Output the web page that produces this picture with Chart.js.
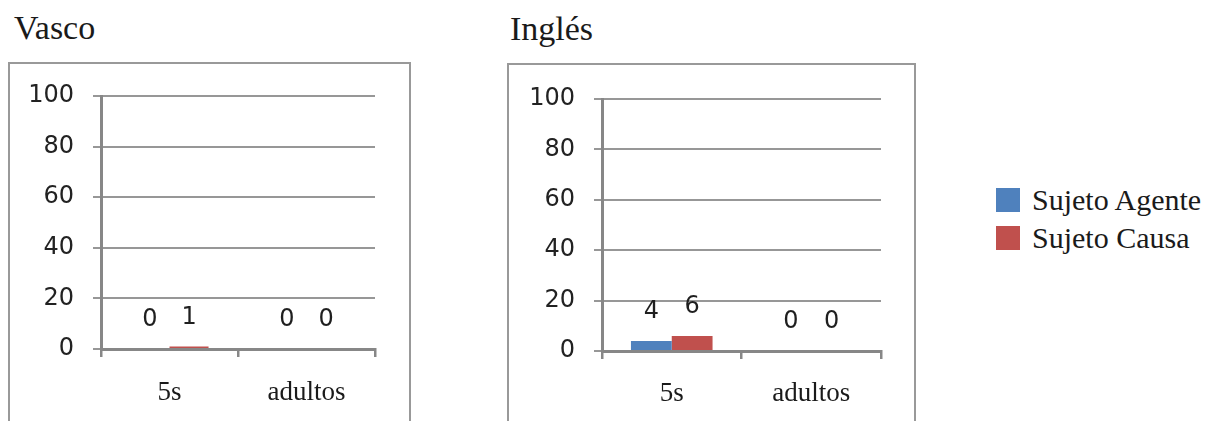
<!DOCTYPE html>
<html>
<head>
<meta charset="utf-8">
<script src="https://cdn.jsdelivr.net/npm/chart.js@4/dist/chart.umd.min.js"></script>
<style>
  html, body { margin: 0; padding: 0; background: #fff; }
  body { width: 1205px; height: 421px; position: relative; overflow: hidden; }
  .title { position: absolute; font-family: "Liberation Serif", "Times New Roman", serif; font-size: 34px; color: #1a1a1a; line-height: 1; }
  .frame { position: absolute; border: 2px solid #999; box-sizing: border-box; }
  canvas { position: absolute; }
  #legend { position: absolute; left: 996px; top: 181px; font-family: "Liberation Serif", "Times New Roman", serif; font-size: 30px; color: #1a1a1a; }
  .item { display: flex; align-items: center; height: 38px; }
  .swatch { width: 24px; height: 24px; margin-right: 12px; }
</style>
</head>
<body>
<div class="title" style="left:14px; top:11px;">Vasco</div>
<div class="title" style="left:510px; top:12px;">Inglés</div>
<div class="frame" style="left:8px; top:62px; width:403px; height:380px;"></div>
<div class="frame" style="left:507px; top:63px; width:409px; height:380px;"></div>
<canvas id="vasco" width="420" height="359" style="left:0px; top:62px;"></canvas>
<canvas id="ingles" width="430" height="358" style="left:490px; top:63px;"></canvas>
<div id="legend"></div>
<script>
// Age groups on the category axis
const categories = ['5s', 'adultos'];
const seriesNames = ['Sujeto Agente', 'Sujeto Causa'];
const seriesColors = ['#4F81BD', '#C0504D'];

// Percentages per language
const vascoAgente = [0, 0];
const vascoCausa = [1, 0];
const inglesAgente = [4, 0];
const inglesCausa = [6, 0];

const yTicks = [0, 20, 40, 60, 80, 100];

// Writes each bar's value a fixed distance above its top
const valueLabels = {
  id: 'valueLabels',
  afterDatasetsDraw(chart) {
    const ctx = chart.ctx;
    ctx.save();
    ctx.font = '24px "DejaVu Sans", sans-serif';
    ctx.fillStyle = '#1f1f1f';
    ctx.textAlign = 'center';
    ctx.textBaseline = 'middle';
    chart.data.datasets.forEach((ds, i) => {
      chart.getDatasetMeta(i).data.forEach((bar, j) => {
        ctx.fillText(String(ds.data[j]), bar.x, bar.y - 29);
      });
    });
    ctx.restore();
  }
};

function makePanel(id, agente, causa, geom) {
  return new Chart(document.getElementById(id), {
    type: 'bar',
    data: {
      labels: categories,
      datasets: [
        { label: seriesNames[0], data: agente, backgroundColor: seriesColors[0] },
        { label: seriesNames[1], data: causa, backgroundColor: seriesColors[1] }
      ]
    },
    options: {
      responsive: false,
      animation: false,
      devicePixelRatio: 1,
      categoryPercentage: geom.cat,
      barPercentage: 1,
      layout: { padding: { top: geom.top, right: geom.right, left: 0, bottom: 0 } },
      plugins: { legend: { display: false }, tooltip: { enabled: false } },
      scales: {
        x: {
          grid: { display: true, drawOnChartArea: false, offset: true, tickLength: 8, color: '#878787', lineWidth: 2.5 },
          border: { color: '#878787', width: 3 },
          ticks: { padding: geom.xpad, color: '#1a1a1a', font: { family: '"Liberation Serif", serif', size: 27 } },
          afterFit(scale) { scale.height = geom.xh; }
        },
        y: {
          min: 0, max: 100,
          afterBuildTicks(scale) { scale.ticks = yTicks.map(v => ({ value: v })); },
          grid: { color: '#979797', lineWidth: 2, tickLength: 8 },
          border: { color: '#878787', width: 3 },
          ticks: { padding: 19, color: '#222', font: { family: '"DejaVu Sans", sans-serif', size: 24 } },
          afterFit(scale) { scale.width = geom.yw; }
        }
      }
    },
    plugins: [valueLabels]
  });
}

makePanel('vasco', vascoAgente, vascoCausa, { cat: 0.57, top: 34, right: 45, xh: 72, yw: 101, xpad: 20 });
makePanel('ingles', inglesAgente, inglesCausa, { cat: 0.585, top: 36, right: 39, xh: 70, yw: 112, xpad: 19 });

// Shared legend
const legend = document.getElementById('legend');
seriesNames.forEach((name, i) => {
  const row = document.createElement('div');
  row.className = 'item';
  const sw = document.createElement('div');
  sw.className = 'swatch';
  sw.style.background = seriesColors[i];
  const tx = document.createElement('span');
  tx.textContent = name;
  row.appendChild(sw);
  row.appendChild(tx);
  legend.appendChild(row);
});
</script>
</body>
</html>
